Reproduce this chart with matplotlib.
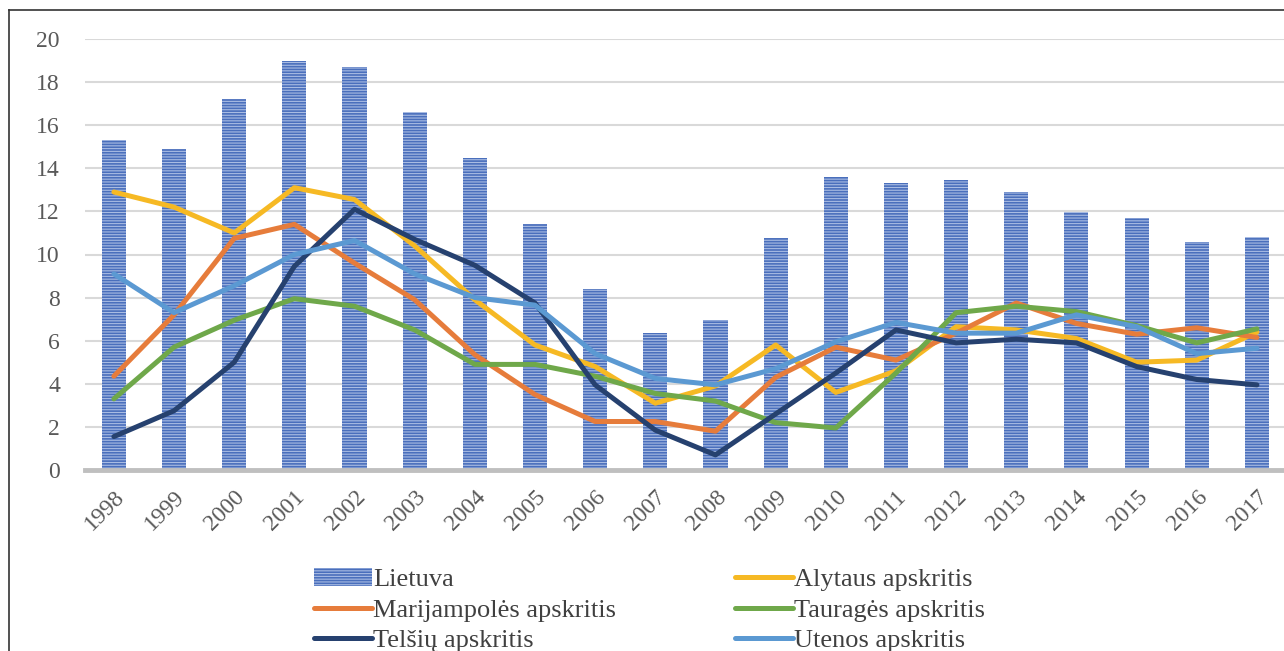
import matplotlib
matplotlib.use("Agg")
import matplotlib.pyplot as plt
from matplotlib.lines import Line2D
import numpy as np

years = [str(y) for y in range(1998, 2018)]

lietuva = [15.3, 14.9, 17.2, 19.0, 18.7, 16.6, 14.5, 11.4, 8.4, 6.35,
           6.95, 10.75, 13.6, 13.3, 13.45, 12.9, 11.95, 11.7, 10.6, 10.8]
alytaus = [12.9, 12.2, 11.0, 13.1, 12.55, 10.4, 7.9, 5.8, 4.8, 3.1,
           3.9, 5.8, 3.6, 4.6, 6.65, 6.5, 6.1, 5.0, 5.1, 6.4]
marijampoles = [4.35, 7.2, 10.75, 11.4, 9.6, 7.9, 5.35, 3.5, 2.25, 2.25,
                1.8, 4.3, 5.7, 5.1, 6.35, 7.75, 6.8, 6.3, 6.6, 6.15]
taurages = [3.3, 5.7, 6.95, 7.95, 7.6, 6.5, 4.9, 4.9, 4.35, 3.55,
            3.2, 2.2, 1.95, 4.5, 7.3, 7.6, 7.35, 6.7, 5.9, 6.55]
telsiu = [1.55, 2.75, 5.0, 9.45, 12.1, 10.7, 9.5, 7.75, 3.95, 1.85,
          0.7, 2.6, 4.5, 6.5, 5.9, 6.07, 5.9, 4.8, 4.2, 3.95]
utenos = [9.1, 7.3, 8.55, 10.0, 10.65, 9.1, 8.0, 7.65, 5.4, 4.25,
          3.95, 4.7, 5.95, 6.85, 6.35, 6.35, 7.2, 6.65, 5.4, 5.65]

plt.rcParams['font.family'] = ['Liberation Serif', 'DejaVu Serif']
plt.rcParams['hatch.color'] = '#a9bce3'
plt.rcParams['hatch.linewidth'] = 0.8
txt = '#595959'

fig = plt.figure(figsize=(12.84, 6.51), dpi=100)
ax = fig.add_axes([85/1284, 181/651, 1 - 85/1284, 431/651])

x = np.arange(len(years))
bars = ax.bar(x, lietuva, width=0.4, color='#4a6fbc', hatch='------',
              linewidth=0, zorder=2)

series = [
    (alytaus, '#f6b924', 'Alytaus apskritis'),
    (marijampoles, '#e67c3b', 'Marijampolės apskritis'),
    (taurages, '#6fa84a', 'Tauragės apskritis'),
    (telsiu, '#26416f', 'Telšių apskritis'),
    (utenos, '#5b99d2', 'Utenos apskritis'),
]
handles = {}
for vals, col, name in series:
    ln, = ax.plot(x, vals, color=col, lw=3.6, zorder=3, solid_capstyle='round')
    handles[name] = ln

ax.set_xlim(-0.48, 19.45)
ax.set_ylim(0, 20)
ax.set_yticks(range(0, 21, 2))
ax.set_xticks(x)
ax.set_xticklabels(years, rotation=45, ha='right', rotation_mode='anchor')
ax.tick_params(axis='both', length=0, labelsize=17, colors=txt)
ax.tick_params(axis='y', pad=18)
ax.tick_params(axis='x', pad=12)
ax.grid(axis='y', color='#d9d9d9', lw=1.5, zorder=0)
ax.set_axisbelow(True)
for s in ['top', 'right', 'left']:
    ax.spines[s].set_visible(False)
ax.spines['bottom'].set_color('#bfbfbf')
ax.spines['bottom'].set_linewidth(3.5)
ax.spines['bottom'].set_zorder(4)

order = ['Marijampolės apskritis', 'Telšių apskritis',
         'Alytaus apskritis', 'Tauragės apskritis', 'Utenos apskritis']
hl = [bars] + [handles[n] for n in order]
labels = ['Lietuva'] + order
leg = fig.legend(hl, labels, ncol=2, loc='upper left',
                 bbox_to_anchor=(290/1284, 1 - 544/651), frameon=False,
                 fontsize=19, handlelength=2.2, handletextpad=0.05,
                 columnspacing=4.5, labelspacing=0.27, labelcolor='#404040')

# frame around figure
fig.add_artist(Line2D([9/1284, 9/1284], [0, 1 - 10/651], transform=fig.transFigure,
                      color='#333333', lw=1.2))
fig.add_artist(Line2D([9/1284, 1], [1 - 10/651, 1 - 10/651], transform=fig.transFigure,
                      color='#333333', lw=1.2))

fig.savefig('out.png', dpi=100)
